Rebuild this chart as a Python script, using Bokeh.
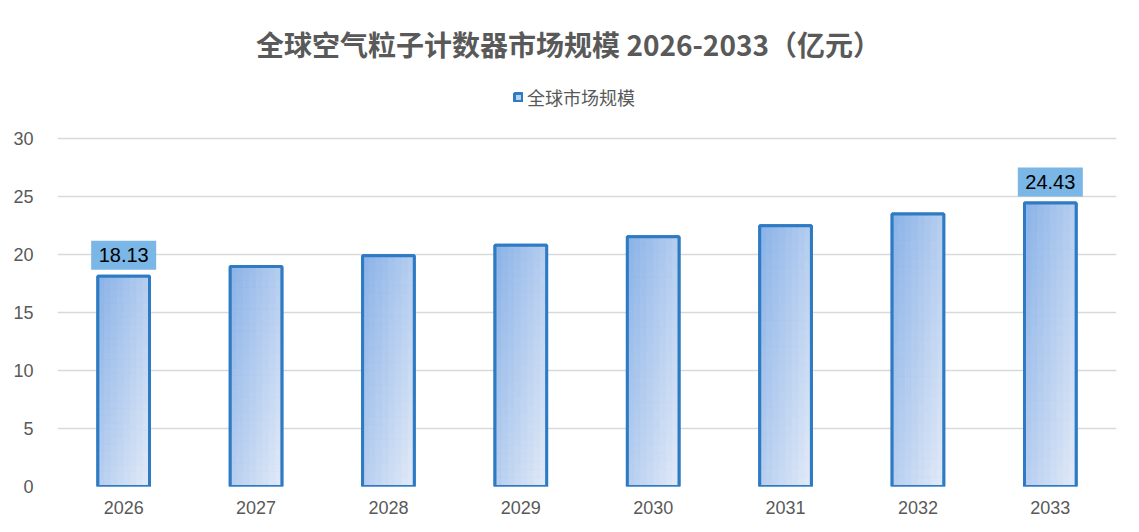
import numpy as np
from bokeh.plotting import figure
from bokeh.models import (ColumnDataSource, Label, Legend, LegendItem,
                          FixedTicker, Range1d)
from bokeh.core.properties import value
from bokeh.embed import file_html
from bokeh.resources import INLINE

# ---- data ----
years = ["2026", "2027", "2028", "2029", "2030", "2031", "2032", "2033"]
market = [18.13, 18.97, 19.90, 20.80, 21.53, 22.47, 23.50, 24.43]
labeled_years = ["2026", "2033"]
y_ticks = [0, 5, 10, 15, 20, 25, 30]
title_text = "全球空气粒子计数器市场规模 2026-2033（亿元）"
series_name = "全球市场规模"

CJK = "Noto Sans CJK SC"
LAT = "Liberation Sans"
GRAY = "#595959"
EDGE = "#2E7BC4"
DARK = np.array([0x8D, 0xB4, 0xE8], float)
LIGHT = np.array([0xDF, 0xE8, 0xF7], float)
BAR_W = 0.39
W, H = 1131, 524
FRAME_H = 486          # frame spans the full height above the x axis
AXIS_PX = 348          # pixel height of the 0..30 axis span
Y_AXIS_MAX = 30
Y_TOP = Y_AXIS_MAX * FRAME_H / AXIS_PX
LABEL_GAP_PX = 21

p = figure(width=W, height=H, x_range=Range1d(0, len(years)), y_range=Range1d(0, Y_TOP),
           output_backend="svg", toolbar_location=None,
           min_border_left=57, min_border_right=15, min_border_top=0, min_border_bottom=38)
p.outline_line_color = None
p.background_fill_color = "white"
p.border_fill_color = "white"

xs = [i + 0.5 for i in range(len(years))]
src = ColumnDataSource(dict(x=xs, top=market, year=years))

# base bar (legend reference)
base = p.vbar(x="x", top="top", width=BAR_W, source=src, fill_color="#B8CFF0",
              line_color=EDGE, line_width=3)

# gradient overlay built from each bar's value
nx, ny = 8, 30
L, R, B, T, C = [], [], [], [], []
for xc, v in zip(xs, market):
    for i in range(nx):
        for j in range(ny):
            u = (i + 0.5) / nx
            w = (j + 0.5) / ny  # 0 top -> 1 bottom
            t = min(1.0, max(0.0, 0.55 * u + 0.55 * w - 0.05))
            col = DARK + (LIGHT - DARK) * t
            L.append(xc - BAR_W / 2 + BAR_W * i / nx)
            R.append(xc - BAR_W / 2 + BAR_W * (i + 1) / nx)
            T.append(v - v * j / ny)
            B.append(v - v * (j + 1) / ny)
            C.append("#%02x%02x%02x" % tuple(int(round(c)) for c in col))
p.quad(left=L, right=R, bottom=B, top=T, fill_color=C, line_color=C, line_width=0.6)

# outline on top
p.vbar(x="x", top="top", width=BAR_W, source=src, fill_color=None,
       line_color=EDGE, line_width=3)

# value labels
lab_x = [xs[years.index(y)] for y in labeled_years]
lab_v = [market[years.index(y)] for y in labeled_years]
off = LABEL_GAP_PX * Y_AXIS_MAX / AXIS_PX
lsrc = ColumnDataSource(dict(x=lab_x, y=[v + off for v in lab_v],
                             t=["%.2f" % v for v in lab_v]))
p.rect(x="x", y="y", width=65, height=29, width_units="screen", height_units="screen",
       source=lsrc, fill_color="#7AB6E6", line_color=None)
p.text(x="x", y="y", text="t", source=lsrc, text_align="center", text_baseline="middle",
       text_font=value(LAT), text_font_size="20px", text_color="#000000")

# axes
p.yaxis.ticker = FixedTicker(ticks=y_ticks)
p.xaxis.ticker = FixedTicker(ticks=xs)
p.xaxis.major_label_overrides = {x: y for x, y in zip(xs, years)}
for ax in (p.xaxis, p.yaxis):
    ax.axis_line_color = None
    ax.major_tick_line_color = None
    ax.minor_tick_line_color = None
    ax.major_tick_out = 0
    ax.major_tick_in = 0
    ax.minor_tick_out = 0
    ax.minor_tick_in = 0
    ax.major_label_text_font = LAT
    ax.major_label_text_font_size = "18px"
    ax.major_label_text_color = GRAY
p.xaxis.major_label_standoff = 14
p.yaxis.major_label_standoff = 24
p.xgrid.grid_line_color = None
p.ygrid.grid_line_color = "#D9D9D9"
p.ygrid.grid_line_width = 1.5

# title
p.add_layout(Label(x=511, y=FRAME_H - 43, x_units="screen", y_units="screen", text=title_text,
                   text_align="center", text_baseline="middle", text_font=CJK,
                   text_font_size="28px", text_font_style="bold", text_color=GRAY))

# legend
legend = Legend(items=[LegendItem(label=series_name, renderers=[base])],
                location=(456, FRAME_H - 110), orientation="horizontal",
                label_text_font=CJK, label_text_font_size="18px", label_text_color=GRAY,
                glyph_width=10, glyph_height=10, label_standoff=4, padding=0, margin=0,
                background_fill_alpha=0, border_line_color=None)
p.add_layout(legend, "center")

open("out.html", "w").write(file_html(p, INLINE))
